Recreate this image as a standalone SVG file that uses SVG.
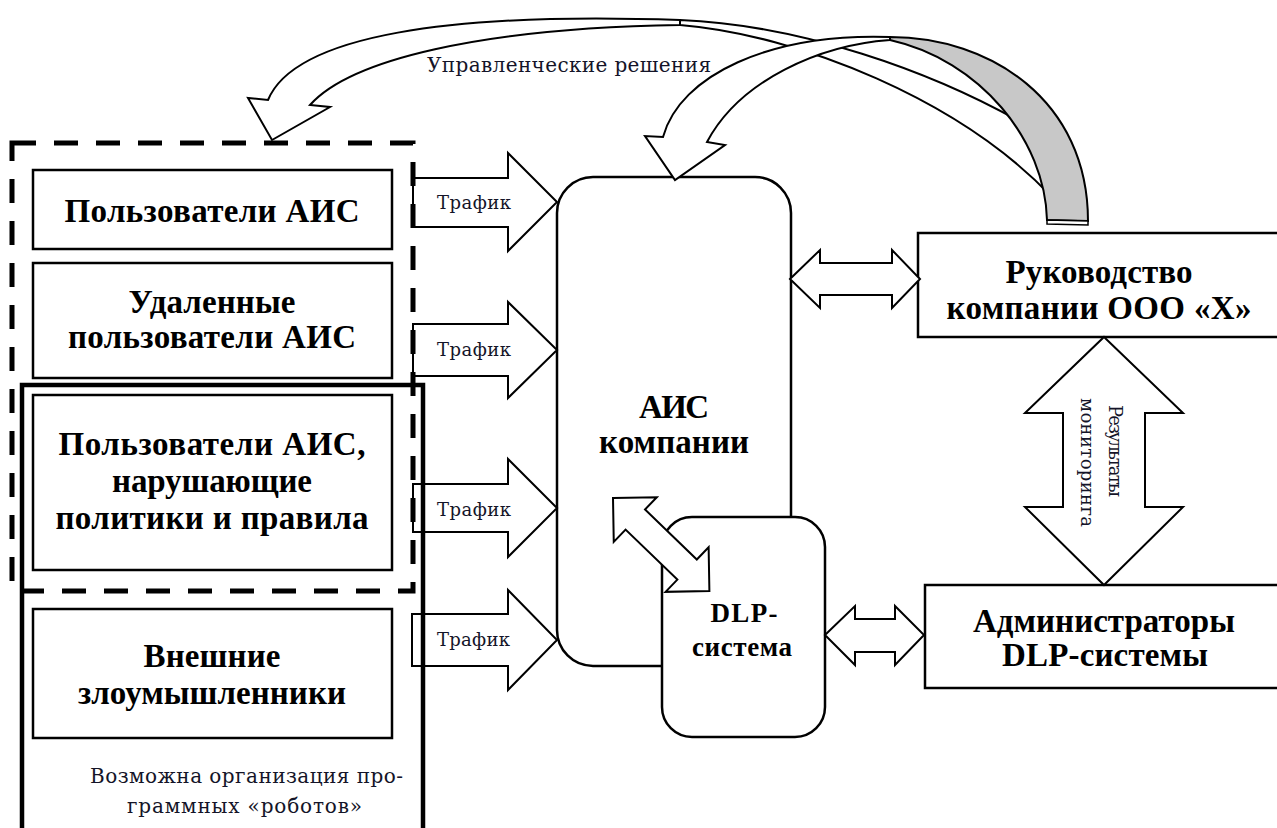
<svg xmlns="http://www.w3.org/2000/svg" width="1277" height="828" viewBox="0 0 1277 828">
<style>
.box{fill:#fff;stroke:#000;stroke-width:2.5}
.arr{fill:#fff;stroke:#000;stroke-width:2;stroke-linejoin:miter}
.b{font-family:"Liberation Serif","Times New Roman",serif;font-weight:bold;fill:#000;text-anchor:middle}
.r{font-family:"DejaVu Serif","Liberation Serif",serif;fill:#141428}
</style>
<rect width="1277" height="828" fill="#fff"/>

<g id="ais">
<rect class="box" x="557" y="177" width="234" height="489" rx="36" ry="36"/>
<text class="b" x="674" y="418" font-size="33" textLength="70">АИС</text>
<text class="b" x="674" y="453" font-size="33" textLength="150">компании</text>
</g>
<g id="dlp">
<rect class="box" x="662" y="517" width="163" height="220" rx="30" ry="30"/>
<text class="b" x="744" y="622" font-size="27" textLength="67">DLP-</text>
<text class="b" x="742" y="656" font-size="27" textLength="100">система</text>
</g>
<g id="mgmt">
<rect class="box" x="918" y="233" width="372" height="104"/>
<text class="b" x="1099" y="283" font-size="33" textLength="187">Руководство</text>
<text class="b" x="1099" y="319" font-size="33" textLength="305">компании ООО «Х»</text>
</g>
<g id="admins">
<rect class="box" x="925" y="585" width="372" height="103"/>
<text class="b" x="1104" y="632" font-size="33" textLength="262">Администраторы</text>
<text class="b" x="1105" y="666" font-size="33" textLength="206">DLP-системы</text>
</g>

<g id="connectors">
<path class="arr" d="M413,178 H508 V153 L557,202 L508,251 V227 H413 Z"/>
<path class="arr" d="M413,324 H508 V302 L557,350 L508,398 V376 H413 Z"/>
<path class="arr" d="M413,484 H508 V459 L557,508 L508,557 V532 H413 Z"/>
<path class="arr" d="M412,614 H508 V590 L557,640 L508,690 V666 H412 Z"/>
<text class="r" x="437" y="209" font-size="18" textLength="74">Трафик</text>
<text class="r" x="437" y="356" font-size="18" textLength="74">Трафик</text>
<text class="r" x="437" y="516" font-size="18" textLength="74">Трафик</text>
<text class="r" x="437" y="646" font-size="18" textLength="73">Трафик</text>

<path class="arr" d="M790,279 L820,250 V263 H892 V250 L920,279 L892,308 V295 H820 V308 Z"/>
<path class="arr" d="M825,635 L855,606 V619 H895 V606 L924,635 L895,665 V652 H855 V665 Z"/>
<path class="arr" d="M1104,337 L1183,413 H1145 V507 H1183 L1104,585 L1025,507 H1063 V413 H1025 Z"/>
<text class="r" font-size="18" transform="translate(1115,405) rotate(90)" x="0" y="6" textLength="92">Результаты</text>
<text class="r" font-size="18" transform="translate(1087,398) rotate(90)" x="0" y="6" textLength="129">мониторинга</text>

<path class="arr" transform="translate(613,498) rotate(44)" d="M0,0 L31,-31 L31,-14 L103,-14 L103,-31 L134,0 L103,31 L103,14 L31,14 L31,31 Z"/>

<path class="arr" d="M680,20 C800,25 930,70 1026,125 L1052,197 C960,100 800,35 680,25 Z"/>
<path class="arr" d="M268,100 C295,35 450,12 680,20 L680,25 C480,28 350,60 310,105 L330,107 L272,140 L248,98 Z"/>
<path class="arr" d="M663,137 C680,75 770,33 890,37 L890,40 C820,45 740,80 707,142 L725,145 L675,180 L645,136 Z"/>
<path class="arr" style="fill:#c8c8c8" d="M890,37 C990,37 1088,100 1088,221 L1047,220 C1045,140 980,60 890,40 Z"/>
<path class="arr" d="M1047,220 L1088,221 L1088,225 L1047,224 Z" style="stroke-width:1.5"/>
<text class="r" x="427" y="72" font-size="20" textLength="284">Управленческие решения</text>
</g>

<g id="users">
<rect class="box" x="33" y="170" width="359" height="79"/>
<text class="b" x="212" y="222" font-size="33" textLength="295">Пользователи АИС</text>
</g>
<g id="remote-users">
<rect class="box" x="33" y="263" width="359" height="115"/>
<text class="b" x="212" y="313" font-size="33" textLength="167">Удаленные</text>
<text class="b" x="212" y="348" font-size="33" textLength="288">пользователи АИС</text>
</g>
<g id="violators">
<rect class="box" x="33" y="395" width="359" height="175"/>
<text class="b" x="212" y="455" font-size="33" textLength="307">Пользователи АИС,</text>
<text class="b" x="212" y="492" font-size="33" textLength="200">нарушающие</text>
<text class="b" x="212" y="529" font-size="33" textLength="313">политики и правила</text>
</g>
<g id="external">
<rect class="box" x="33" y="609" width="359" height="129"/>
<text class="b" x="212" y="667" font-size="33" textLength="137">Внешние</text>
<text class="b" x="212" y="704" font-size="33" textLength="268">злоумышленники</text>
<text class="r" x="90" y="783" font-size="20" textLength="313">Возможна организация про-</text>
<text class="r" x="127" y="813" font-size="20" textLength="235">граммных «роботов»</text>
</g>
<g id="internal-group">
<rect x="12" y="143" width="401" height="448" fill="none" stroke="#000" stroke-width="5" stroke-dasharray="24 18"/>
</g>
<g id="attacker-group">
<rect x="22" y="385" width="401" height="470" fill="none" stroke="#000" stroke-width="4.5"/>
</g>
</svg>
